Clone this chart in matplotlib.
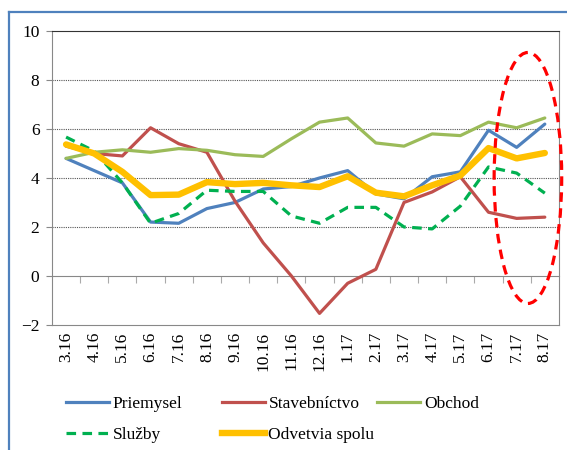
#!/usr/bin/env python
# -*- coding: utf-8 -*-

""" Sector growth chart with highlighted last months """

import matplotlib.pyplot as plt
from matplotlib.lines import Line2D
from matplotlib.patches import Ellipse

MONTHS = ["3.16", "4.16", "5.16", "6.16", "7.16", "8.16", "9.16", "10.16",
          "11.16", "12.16", "1.17", "2.17", "3.17", "4.17", "5.17", "6.17",
          "7.17", "8.17"]

PRIEMYSEL = [4.8, 4.3, 3.8, 2.2, 2.15, 2.75, 3.0, 3.55, 3.65, 4.0, 4.3,
             3.35, 3.15, 4.05, 4.25, 5.95, 5.25, 6.2]
STAVEBNICTVO = [5.3, 5.0, 4.9, 6.05, 5.4, 5.05, 3.05, 1.35, 0.0, -1.53, -0.3,
                0.27, 3.0, 3.43, 4.05, 2.6, 2.35, 2.4]
OBCHOD = [4.8, 5.05, 5.15, 5.05, 5.2, 5.13, 4.95, 4.88, 5.6, 6.28, 6.45,
          5.43, 5.3, 5.8, 5.73, 6.28, 6.05, 6.45]
SLUZBY = [5.67, 5.1, 3.8, 2.15, 2.55, 3.5, 3.45, 3.45, 2.45, 2.15, 2.8,
          2.8, 2.0, 1.92, 2.85, 4.45, 4.2, 3.38]
SPOLU = [5.37, 5.0, 4.25, 3.3, 3.32, 3.83, 3.75, 3.8, 3.7, 3.63, 4.07,
         3.4, 3.25, 3.7, 4.1, 5.22, 4.8, 5.02]

SERIES = [
    ("Priemysel", PRIEMYSEL, "#4F81BD", "-", 2.3),
    ("Stavebníctvo", STAVEBNICTVO, "#C0504D", "-", 2.3),
    ("Obchod", OBCHOD, "#9BBB59", "-", 2.3),
    ("Služby", SLUZBY, "#00B050", "--", 2.3),
    ("Odvetvia spolu", SPOLU, "#FFC000", "-", 4.6),
]

# legend columns as in the original layout
LEGEND_COLUMNS = [["Priemysel", "Služby"],
                  ["Stavebníctvo", "Odvetvia spolu"],
                  ["Obchod"]]


def main() -> None:
    """ Main function """
    plt.rcParams["font.family"] = ["Liberation Serif", "DejaVu Serif"]
    fig = plt.figure(figsize=(5.67, 4.5), dpi=100)
    ax = fig.add_axes([0.0917, 0.278, 0.894, 0.653])

    x = list(range(len(MONTHS)))
    handles = {}
    for name, values, color, style, width in SERIES:
        line, = ax.plot(x, values, color=color, linestyle=style,
                        linewidth=width, solid_capstyle="round",
                        dashes=(3, 2) if style == "--" else (None, None),
                        zorder=3)
        handles[name] = line

    # highlight of the last months
    ax.add_patch(Ellipse((16.4, 4.0), 2.4, 10.25, fill=False,
                         edgecolor="#FF0000", linestyle=(0, (3, 2)),
                         linewidth=2.3, clip_on=False, zorder=4))

    ax.set_xlim(-0.5, len(MONTHS) - 0.5)
    ax.set_ylim(-2, 10)
    ax.set_yticks(range(-2, 11, 2))
    ax.tick_params(axis="y", length=4, color="#888888", labelsize=12.5,
                   pad=5)
    for val in range(2, 10, 2):
        ax.axhline(val, color="#555555", linestyle=(0, (1, 1)),
                   linewidth=0.8, zorder=1)

    # category axis crossing at zero
    ax.spines["bottom"].set_position(("data", 0))
    ax.spines["bottom"].set_color("#888888")
    ax.set_xticks([i - 0.5 for i in range(1, len(MONTHS))])
    ax.tick_params(axis="x", length=5, color="#aaaaaa", labelbottom=False,
                   direction="out")
    ax.spines["left"].set_color("#888888")
    ax.spines["right"].set_color("#888888")
    ax.spines["top"].set_color("#333333")

    sec = ax.secondary_xaxis(0.0)
    sec.set_xticks(x)
    sec.set_xticklabels(MONTHS, rotation=90, fontsize=12.5)
    sec.tick_params(length=0, pad=5)
    sec.spines["bottom"].set_color("#888888")

    for col, names in enumerate(LEGEND_COLUMNS):
        legend_lines = []
        for name in names:
            h = handles[name]
            legend_lines.append(Line2D([0], [0], color=h.get_color(),
                                       linestyle=h.get_linestyle(),
                                       linewidth=h.get_linewidth(),
                                       dashes=(3, 2) if name == "Služby"
                                       else (None, None)))
        fig.legend(legend_lines, names, loc="upper left",
                   bbox_to_anchor=((66 + 155.5 * col) / 567, 0.12),
                   frameon=False, fontsize=12.5, handlelength=2.5,
                   handletextpad=0.2, labelspacing=0.85, borderaxespad=0,
                   borderpad=0)

    # outer frame
    fig.add_artist(Line2D([9 / 567, 9 / 567], [0, 1 - 12 / 450],
                          color="#4F81BD", linewidth=1.6))
    fig.add_artist(Line2D([9 / 567, 1], [1 - 12 / 450, 1 - 12 / 450],
                          color="#4F81BD", linewidth=1.6))

    fig.savefig("out.png", dpi=100)


if __name__ == "__main__":
    main()
